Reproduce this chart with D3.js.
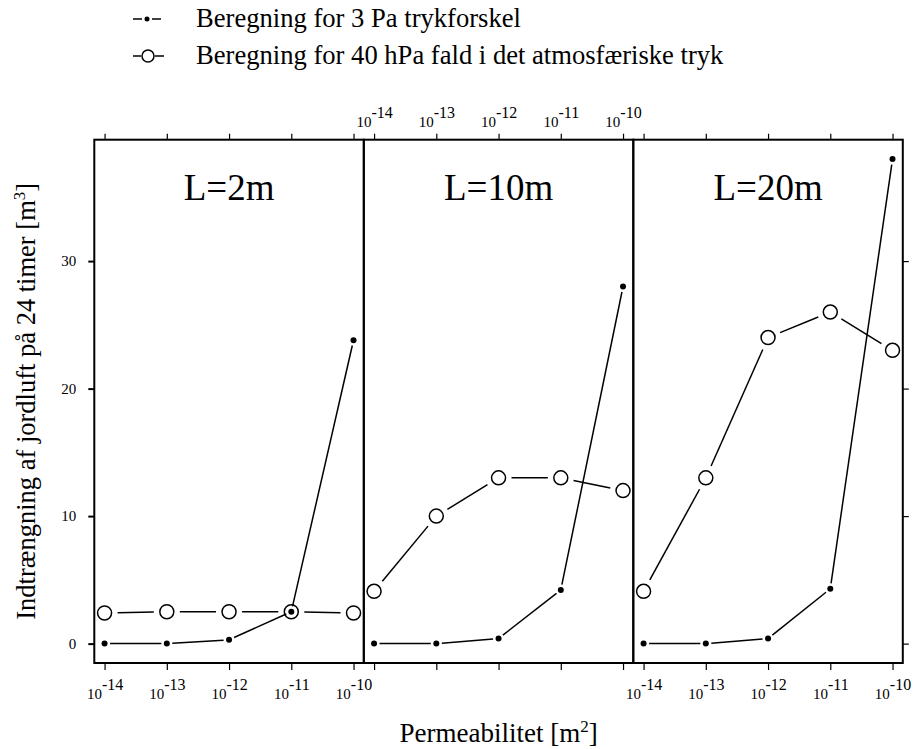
<!DOCTYPE html>
<html>
<head>
<meta charset="utf-8">
<script src="https://cdn.jsdelivr.net/npm/d3@7"></script>
<style>
  body { margin: 0; background: #fff; }
  text { font-family: "Liberation Serif", "DejaVu Serif", serif; fill: #000; }
</style>
</head>
<body>
<div id="chart"></div>
<script>
// data
const permeability = [1e-14, 1e-13, 1e-12, 1e-11, 1e-10];
const panelTitles = ["L=2m", "L=10m", "L=20m"];
const calc3Pa = [
  [0, 0, 0.3, 2.5, 23.8],
  [0, 0, 0.4, 4.2, 28],
  [0, 0, 0.4, 4.3, 38]
];
const calc40hPa = [
  [2.4, 2.5, 2.5, 2.5, 2.4],
  [4.1, 10, 13, 13, 12],
  [4.1, 13, 24, 26, 23]
];
const yTicks = [0, 10, 20, 30];
const xTickExponents = [-14, -13, -12, -11, -10];
const legendLabels = ["Beregning for 3 Pa trykforskel", "Beregning for 40 hPa fald i det atmosfæriske tryk"];

class Lattice {
  constructor(config) {
    this.config = config;
    this.svg = null;
    this.xScale = null;
    this.yScale = null;
    this.createSvg();
  }

  createSvg() {
    this.svg = d3.select(this.config.div)
      .append("svg")
      .attr("width", this.config.width)
      .attr("height", this.config.height);
  }

  createScales() {
    let c = this.config;
    this.xScale = d3.scaleLog()
      .domain([Math.pow(10, -14.165), Math.pow(10, -9.835)])
      .range([0, c.panelW]);
    this.yScale = d3.scaleLinear()
      .domain([-1.52, 39.52])
      .range([c.panelH, 0]);
  }

  tickLabel(sel, baseY) {
    sel.selectAll("text").each(function(d, i) {
      let t = d3.select(this);
      t.text(null).attr("dy", null)
        .attr("y", baseY)
        .attr("font-size", 15)
        .attr("text-anchor", "middle");
      t.append("tspan").text("10");
      t.append("tspan").attr("dy", -9).attr("font-size", 16)
        .text(xTickExponents[i]);
    });
  }

  gappedLine(g, vals, gap) {
    let pts = vals.map((v, i) => [this.xScale(permeability[i]), this.yScale(v)]);
    for (let i = 0; i < pts.length - 1; i++) {
      let [x0, y0] = pts[i], [x1, y1] = pts[i + 1];
      let len = Math.hypot(x1 - x0, y1 - y0);
      if (len <= 2 * gap) continue;
      let ux = (x1 - x0) / len, uy = (y1 - y0) / len;
      g.append("line")
        .attr("x1", x0 + ux * gap).attr("y1", y0 + uy * gap)
        .attr("x2", x1 - ux * gap).attr("y2", y1 - uy * gap)
        .attr("stroke", "#000").attr("stroke-width", 1.5);
    }
  }

  render() {
    let c = this.config;
    panelTitles.forEach((title, p) => {
      let g = this.svg.append("g")
        .attr("transform", `translate(${c.left + p * c.panelW},${c.top})`);

      // bottom ticks, labels on outer panels
      let bottom = g.append("g")
        .attr("transform", `translate(0,${c.panelH})`)
        .call(d3.axisBottom(this.xScale).tickValues(permeability).tickSize(7).tickFormat(() => ""));
      // top ticks, labels on middle panel
      let top = g.append("g")
        .call(d3.axisTop(this.xScale).tickValues(permeability).tickSize(6).tickFormat(() => ""));
      [bottom, top].forEach(a => {
        a.select(".domain").remove();
        a.selectAll("line").attr("stroke-width", 1.2);
      });
      if (p !== 1) this.tickLabel(bottom, 36);
      else this.tickLabel(top, -13);

      if (p === 0) {
        let ya = g.append("g")
          .call(d3.axisLeft(this.yScale).tickValues(yTicks).tickSize(6).tickPadding(12));
        ya.select(".domain").remove();
        ya.selectAll("line").attr("stroke-width", 2);
        ya.selectAll("text").attr("font-size", 15);
      }
      if (p === 2) {
        let ya = g.append("g")
          .attr("transform", `translate(${c.panelW},0)`)
          .call(d3.axisRight(this.yScale).tickValues(yTicks).tickSize(6).tickFormat(() => ""));
        ya.select(".domain").remove();
        ya.selectAll("line").attr("stroke-width", 1.2);
      }

      this.gappedLine(g, calc40hPa[p], 13);
      this.gappedLine(g, calc3Pa[p], 5.5);

      g.selectAll("circle.open")
        .data(calc40hPa[p])
        .join("circle")
        .attr("class", "open")
        .attr("cx", (d, i) => this.xScale(permeability[i]))
        .attr("cy", d => this.yScale(d))
        .attr("r", 7)
        .attr("fill", "none")
        .attr("stroke", "#000")
        .attr("stroke-width", 1.5);

      g.selectAll("circle.dot")
        .data(calc3Pa[p])
        .join("circle")
        .attr("class", "dot")
        .attr("cx", (d, i) => this.xScale(permeability[i]))
        .attr("cy", d => this.yScale(d))
        .attr("r", 3)
        .attr("fill", "#000");

      g.append("text")
        .attr("x", c.panelW / 2)
        .attr("y", 60)
        .attr("text-anchor", "middle")
        .attr("font-size", 37)
        .text(title);

      g.append("rect")
        .attr("width", c.panelW)
        .attr("height", c.panelH)
        .attr("fill", "none")
        .attr("stroke", "#000")
        .attr("stroke-width", 2);
    });

    // axis titles
    let yl = this.svg.append("text")
      .attr("transform", `translate(35,${c.top + c.panelH / 2}) rotate(-90)`)
      .attr("text-anchor", "middle")
      .attr("font-size", 26.5);
    yl.append("tspan").text("Indtrængning af jordluft på 24 timer [m");
    yl.append("tspan").attr("font-size", 17).attr("dy", -10).text("3");
    yl.append("tspan").attr("dy", 10).text("]");

    let xl = this.svg.append("text")
      .attr("x", c.left + 1.5 * c.panelW)
      .attr("y", 742)
      .attr("text-anchor", "middle")
      .attr("font-size", 27);
    xl.append("tspan").text("Permeabilitet [m");
    xl.append("tspan").attr("font-size", 17).attr("dy", -10).text("2");
    xl.append("tspan").attr("dy", 10).text("]");
  }

  renderLegend() {
    let lg = this.svg.append("g");
    legendLabels.forEach((label, i) => {
      let y = 19 + i * 37;
      let gap = i === 0 ? 5 : 7;
      let cx = i === 0 ? 147 : 148;
      lg.append("line").attr("x1", 133).attr("x2", cx - gap).attr("y1", y).attr("y2", y)
        .attr("stroke", "#000").attr("stroke-width", 1.5);
      lg.append("line").attr("x1", cx + gap).attr("x2", cx + gap + 9).attr("y1", y).attr("y2", y)
        .attr("stroke", "#000").attr("stroke-width", 1.5);
      if (i === 0) {
        lg.append("circle").attr("cx", cx).attr("cy", y).attr("r", 2.5).attr("fill", "#000");
      } else {
        lg.append("circle").attr("cx", cx).attr("cy", y).attr("r", 6)
          .attr("fill", "none").attr("stroke", "#000").attr("stroke-width", 1.5);
      }
      lg.append("text")
        .attr("x", 196)
        .attr("y", y + 8)
        .attr("font-size", 26.6)
        .text(label);
    });
  }
}

function main() {
  let c = { div: "#chart", width: 913, height: 749, left: 94.3, top: 139.7, panelW: 269.5, panelH: 523.3 };
  let app = new Lattice(c);
  app.createScales();
  app.render();
  app.renderLegend();
}

main();
</script>
</body>
</html>
